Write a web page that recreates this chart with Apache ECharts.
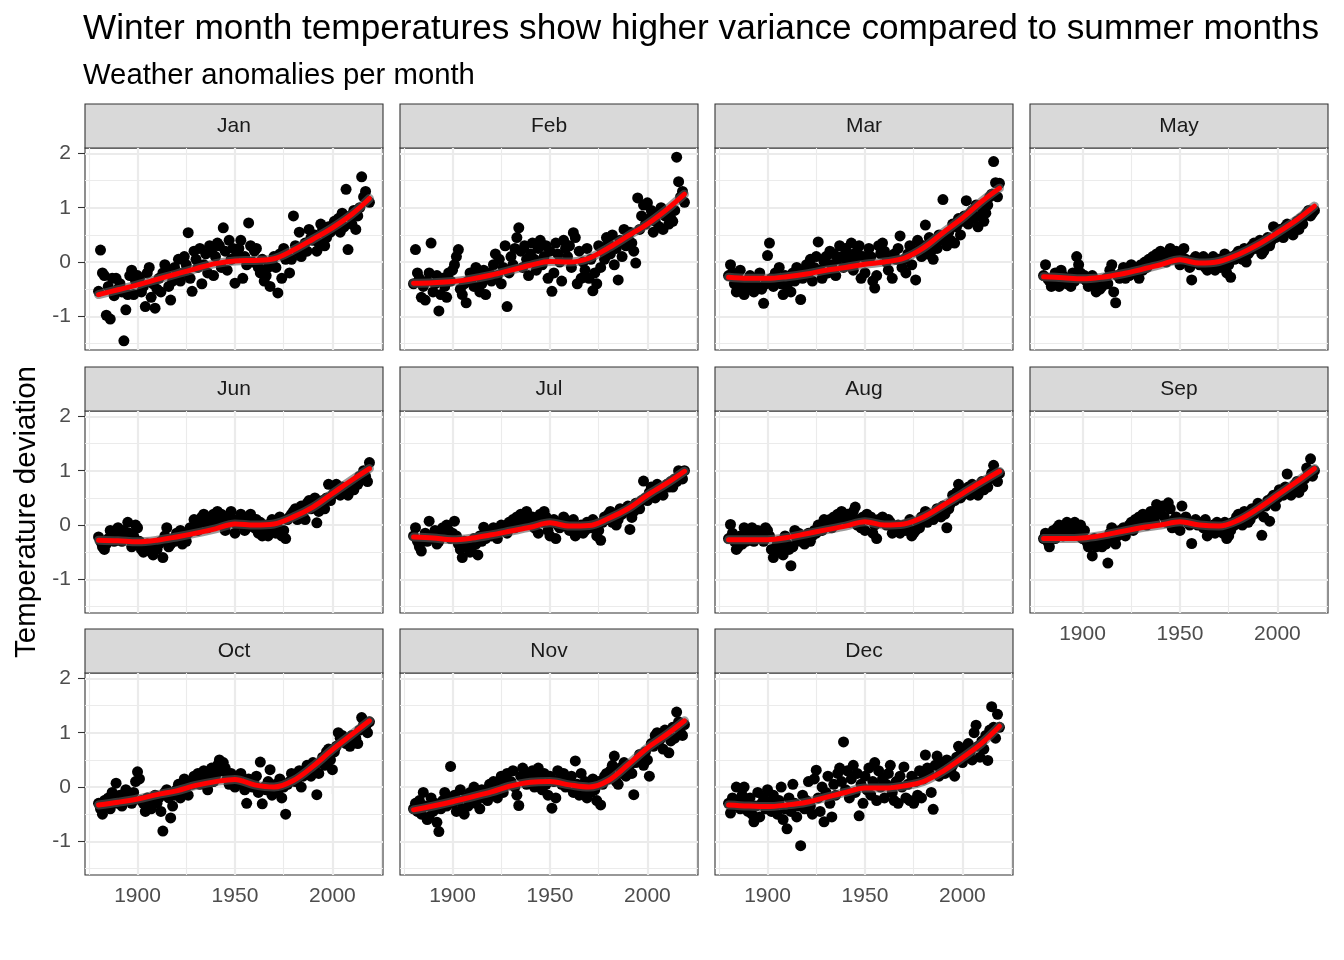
<!DOCTYPE html>
<html>
<head>
<meta charset="utf-8">
<script src="https://cdn.jsdelivr.net/npm/echarts@6/dist/echarts.min.js"></script>
<style>
html,body{margin:0;padding:0;background:#fff;}
#chart{width:1344px;height:960px;}
</style>
</head>
<body>
<div id="chart"></div>
<script>
// ---------------- DATA ----------------
const months = ['Jan','Feb','Mar','May','Jun','Jul','Aug','Sep','Oct','Nov','Dec'];
const firstYear = 1880;
const years = Array.from({length: 140}, (_, i) => firstYear + i);

const jan = [
 -0.54, 0.22, -0.20, -0.25, -0.98, -0.45, -1.05, -0.30, -0.62, -0.30,
 -0.50, -0.40, -0.55, -1.45, -0.88, -0.60, -0.25, -0.15, -0.60, -0.35,
 -0.25, -0.30, -0.55, -0.45, -0.82, -0.20, -0.10, -0.65, -0.40, -0.85,
 -0.50, -0.30, -0.55, -0.20, -0.05, -0.15, -0.45, -0.70, -0.35, -0.10,
 -0.25, 0.05, -0.35, -0.20, 0.10, -0.05, 0.54, -0.30, -0.54, 0.20,
 0.05, -0.10, 0.25, -0.40, -0.05, 0.15, -0.20, 0.30, 0.20, -0.25,
 0.10, 0.35, 0.30, -0.10, 0.63, 0.20, -0.15, 0.40, 0.05, 0.25,
 -0.39, 0.15, 0.25, 0.40, -0.30, 0.10, -0.05, 0.72, 0.30, 0.00,
 0.20, 0.25, -0.10, -0.20, 0.05, -0.35, -0.25, -0.10, -0.45, 0.00,
 0.10, -0.10, -0.57, 0.15, -0.30, 0.25, 0.05, 0.10, -0.20, 0.05,
 0.85, 0.30, 0.20, 0.55, 0.10, 0.25, 0.35, 0.20, 0.60, 0.45,
 0.40, 0.50, 0.20, 0.35, 0.70, 0.60, 0.30, 0.45, 0.65, 0.55,
 0.60, 0.75, 0.70, 0.80, 0.55, 0.90, 0.65, 1.34, 0.23, 0.85,
 0.70, 0.95, 0.60, 0.85, 1.00, 1.57, 1.20, 1.30, 1.12, 1.10
];
const feb = [
 -0.40, 0.23, -0.20, -0.30, -0.65, -0.45, -0.70, -0.35, -0.20, 0.35,
 -0.55, -0.40, -0.25, -0.90, -0.60, -0.30, -0.45, -0.65, -0.20, -0.35,
 -0.15, -0.05, 0.10, 0.23, -0.50, -0.60, -0.40, -0.75, -0.35, -0.20,
 -0.30, -0.45, -0.10, -0.25, -0.55, -0.40, -0.15, -0.60, -0.30, -0.20,
 -0.35, -0.05, 0.15, -0.25, 0.05, -0.40, -0.10, 0.30, -0.82, -0.20,
 0.10, -0.05, 0.25, 0.45, 0.63, 0.20, -0.10, 0.30, 0.05, -0.25,
 0.15, 0.35, 0.05, -0.15, 0.25, 0.40, -0.05, 0.10, 0.30, -0.30,
 0.20, -0.54, -0.20, 0.35, 0.15, 0.00, -0.35, 0.40, 0.25, 0.10,
 0.30, -0.10, 0.54, 0.45, -0.40, 0.20, -0.30, 0.00, -0.15, 0.25,
 -0.30, 0.05, -0.53, -0.20, -0.40, 0.30, -0.10, 0.20, 0.05, 0.45,
 0.35, 0.15, 0.50, -0.05, 0.25, -0.33, 0.40, 0.10, 0.60, 0.30,
 0.45, 0.55, 0.35, 0.20, -0.02, 1.18, 0.60, 0.85, 1.05, 0.70,
 1.09, 0.80, 0.95, 0.55, 0.75, 0.90, 0.65, 1.00, 0.60, 0.85,
 0.90, 0.70, 0.80, 0.75, 0.95, 1.93, 1.48, 1.20, 1.30, 1.10
];
const mar = [
 -0.25, -0.05, -0.20, -0.40, -0.55, -0.30, -0.15, -0.45, -0.60, -0.35,
 -0.50, -0.25, -0.40, -0.55, -0.30, -0.45, -0.20, -0.50, -0.76, -0.40,
 0.12, 0.35, -0.30, -0.45, -0.20, -0.35, -0.10, -0.40, -0.60, -0.25,
 -0.45, -0.30, -0.55, -0.20, -0.35, -0.10, -0.25, -0.69, -0.30, -0.15,
 -0.05, -0.20, 0.05, -0.35, -0.10, 0.10, 0.37, -0.15, -0.30, 0.00,
 0.10, -0.20, 0.20, -0.05, 0.15, -0.25, 0.05, 0.30, 0.10, -0.10,
 0.25, 0.00, 0.15, 0.35, -0.15, 0.05, 0.20, 0.30, -0.30, 0.10,
 -0.20, 0.05, 0.25, 0.10, -0.35, -0.48, -0.25, 0.30, 0.15, 0.35,
 0.20, 0.00, -0.15, 0.10, -0.30, 0.15, 0.05, 0.25, 0.48, -0.10,
 0.05, -0.20, 0.15, 0.30, -0.05, 0.20, -0.33, 0.40, 0.25, 0.10,
 0.30, 0.68, 0.15, 0.45, 0.20, 0.05, 0.35, 0.25, 0.50, 0.40,
 1.15, 0.45, 0.30, 0.55, 0.40, 0.70, 0.35, 0.65, 0.80, 0.50,
 0.75, 0.85, 1.13, 0.70, 0.90, 0.95, 0.80, 1.05, 0.65, 0.85,
 1.00, 0.75, 0.90, 1.05, 1.20, 1.25, 1.85, 1.46, 1.20, 1.45
];
const may = [
 -0.25, -0.05, -0.30, -0.35, -0.45, -0.40, -0.20, -0.30, -0.45, -0.15,
 -0.25, -0.35, -0.40, -0.30, -0.45, -0.20, -0.35, 0.10, -0.05, -0.20,
 -0.30, -0.25, -0.35, -0.45, -0.30, -0.25, -0.40, -0.55, -0.35, -0.50,
 -0.45, -0.35, -0.30, -0.40, -0.15, -0.05, -0.55, -0.75, -0.25, -0.30,
 -0.20, -0.10, -0.30, -0.15, -0.25, -0.05, -0.20, -0.10, -0.15, -0.30,
 -0.05, -0.15, 0.00, -0.10, 0.05, 0.00, 0.10, 0.05, 0.15, 0.10,
 0.20, 0.05, 0.15, 0.00, 0.10, 0.25, 0.05, 0.15, 0.20, 0.10,
 -0.05, 0.10, 0.25, 0.05, 0.00, -0.10, -0.33, 0.05, 0.10, 0.00,
 -0.05, 0.05, 0.10, -0.10, -0.15, 0.00, -0.05, 0.10, -0.15, 0.05,
 0.05, -0.10, 0.00, 0.15, -0.20, -0.05, -0.28, 0.10, 0.05, 0.15,
 0.20, 0.10, 0.05, 0.25, 0.00, 0.15, 0.20, 0.30, 0.35, 0.25,
 0.30, 0.40, 0.15, 0.20, 0.35, 0.45, 0.30, 0.40, 0.65, 0.45,
 0.50, 0.60, 0.55, 0.45, 0.65, 0.70, 0.60, 0.55, 0.50, 0.65,
 0.75, 0.60, 0.80, 0.70, 0.85, 0.90, 0.95, 0.85, 0.90, 0.95
];
const jun = [
 -0.22, -0.30, -0.40, -0.45, -0.35, -0.25, -0.10, -0.20, -0.30, -0.15,
 -0.05, -0.20, -0.30, -0.10, -0.25, 0.05, -0.15, -0.40, -0.20, 0.00,
 -0.05, -0.30, -0.45, -0.50, -0.40, -0.35, -0.45, -0.50, -0.55, -0.40,
 -0.45, -0.35, -0.30, -0.60, -0.20, -0.05, -0.40, -0.35, -0.25, -0.30,
 -0.15, -0.20, -0.10, -0.35, -0.25, -0.30, -0.15, -0.05, -0.10, 0.10,
 0.00, -0.10, 0.05, 0.15, 0.20, 0.10, -0.05, 0.15, 0.10, 0.20,
 0.05, 0.25, 0.10, 0.20, 0.00, -0.10, 0.15, 0.05, 0.25, 0.10,
 -0.15, 0.00, 0.10, 0.20, 0.05, -0.10, -0.05, 0.15, 0.20, 0.00,
 -0.05, 0.10, -0.15, 0.05, -0.20, -0.10, 0.00, -0.20, -0.05, 0.10,
 0.05, -0.15, -0.05, 0.15, -0.20, -0.10, -0.25, 0.10, 0.15, 0.20,
 0.25, 0.30, 0.10, 0.20, 0.35, 0.15, 0.10, 0.40, 0.45, 0.30,
 0.35, 0.50, 0.04, 0.25, 0.40, 0.45, 0.30, 0.50, 0.75, 0.45,
 0.55, 0.60, 0.75, 0.65, 0.55, 0.70, 0.65, 0.60, 0.55, 0.70,
 0.75, 0.65, 0.80, 0.75, 0.90, 0.85, 1.00, 0.90, 0.80, 1.15
];
const jul = [
 -0.20, -0.05, -0.30, -0.40, -0.48, -0.25, -0.15, -0.30, 0.07, -0.20,
 -0.25, -0.10, -0.35, -0.30, -0.15, -0.05, -0.20, 0.00, -0.10, -0.25,
 -0.15, 0.07, -0.20, -0.35, -0.45, -0.60, -0.30, -0.40, -0.35, -0.50,
 -0.40, -0.25, -0.35, -0.55, -0.20, -0.30, -0.04, -0.25, -0.20, -0.15,
 -0.20, -0.05, -0.15, -0.25, -0.10, 0.00, -0.10, -0.05, -0.15, 0.05,
 0.00, 0.10, -0.05, 0.15, 0.10, 0.20, 0.05, 0.10, 0.25, 0.15,
 0.05, 0.15, -0.05, 0.10, -0.15, 0.20, 0.05, 0.25, 0.15, -0.10,
 -0.20, 0.05, 0.10, -0.25, 0.00, -0.05, 0.05, 0.15, 0.10, 0.00,
 -0.10, 0.05, 0.10, -0.20, -0.15, -0.05, 0.00, -0.15, -0.10, 0.05,
 0.00, -0.05, 0.10, 0.05, -0.20, -0.10, -0.28, 0.05, 0.15, 0.10,
 0.20, 0.25, 0.05, 0.15, 0.00, 0.10, 0.30, 0.20, 0.25, 0.30,
 0.35, -0.08, 0.14, 0.25, 0.40, 0.35, 0.30, 0.45, 0.81, 0.50,
 0.45, 0.60, 0.70, 0.65, 0.50, 0.75, 0.60, 0.65, 0.55, 0.70,
 0.75, 0.70, 0.80, 0.70, 0.85, 0.80, 1.00, 0.90, 0.85, 1.00
];
const aug = [
 -0.25, 0.01, -0.15, -0.30, -0.45, -0.40, -0.20, -0.35, -0.05, -0.30,
 -0.25, -0.15, -0.05, -0.30, -0.20, -0.10, -0.25, -0.15, -0.30, -0.05,
 -0.10, -0.20, -0.45, -0.60, -0.50, -0.35, -0.30, -0.40, -0.55, -0.20,
 -0.35, -0.45, -0.75, -0.40, -0.10, -0.25, -0.15, -0.30, -0.20, -0.35,
 -0.25, -0.15, -0.30, -0.20, -0.10, -0.15, 0.00, -0.05, -0.10, 0.10,
 0.05, 0.00, 0.10, -0.05, 0.15, 0.05, 0.20, 0.10, 0.25, 0.15,
 0.10, 0.20, 0.05, 0.15, 0.25, 0.33, 0.00, 0.10, -0.05, 0.15,
 -0.10, 0.20, 0.10, 0.15, -0.15, 0.00, -0.25, 0.10, 0.05, 0.15,
 0.05, 0.00, 0.10, 0.05, -0.15, -0.10, -0.05, 0.00, -0.15, -0.05,
 0.00, -0.10, -0.05, 0.10, -0.20, -0.15, -0.10, 0.05, -0.05, 0.15,
 0.10, 0.25, 0.05, 0.20, 0.15, 0.10, 0.20, 0.30, 0.25, 0.15,
 0.35, 0.20, -0.05, 0.30, 0.40, 0.55, 0.45, 0.60, 0.75, 0.50,
 0.55, 0.65, 0.60, 0.70, 0.55, 0.75, 0.65, 0.60, 0.55, 0.70,
 0.80, 0.65, 0.75, 0.70, 0.85, 0.95, 1.10, 0.85, 0.80, 0.95
];
const sep = [
 -0.25, -0.15, -0.30, -0.40, -0.20, -0.10, -0.25, -0.05, 0.00, -0.15,
 -0.20, -0.05, 0.05, -0.10, 0.00, -0.15, 0.05, -0.05, -0.20, 0.00,
 -0.25, -0.10, -0.30, -0.40, -0.35, -0.57, -0.25, -0.40, -0.30, -0.35,
 -0.40, -0.25, -0.35, -0.70, -0.15, -0.05, -0.30, -0.35, -0.20, -0.10,
 -0.15, -0.05, -0.20, -0.10, 0.00, 0.05, -0.10, 0.10, 0.00, 0.15,
 0.05, 0.20, 0.10, 0.00, 0.15, 0.25, 0.10, 0.05, 0.38, 0.20,
 0.25, 0.35, 0.15, 0.05, 0.41, 0.30, -0.05, 0.10, 0.15, 0.00,
 -0.10, 0.35, 0.10, 0.15, 0.05, 0.00, -0.34, 0.05, 0.10, 0.00,
 0.05, 0.00, -0.05, 0.10, -0.20, -0.10, -0.05, 0.00, -0.15, 0.05,
 0.00, -0.10, -0.15, 0.05, -0.25, -0.20, -0.10, 0.05, 0.00, 0.15,
 0.20, 0.10, 0.00, 0.25, 0.15, 0.05, 0.10, 0.30, 0.20, 0.25,
 0.40, 0.30, -0.19, 0.15, 0.35, 0.45, 0.07, 0.50, 0.55, 0.35,
 0.50, 0.65, 0.60, 0.55, 0.70, 0.94, 0.65, 0.55, 0.60, 0.75,
 0.80, 0.60, 0.75, 0.70, 0.85, 1.05, 0.95, 1.22, 0.90, 1.00
];
const oct = [
 -0.30, -0.40, -0.50, -0.25, -0.35, -0.20, -0.40, -0.10, -0.25, 0.07,
 -0.30, -0.15, -0.35, -0.20, -0.05, -0.25, -0.15, -0.30, -0.10, 0.10,
 0.28, 0.15, -0.25, -0.30, -0.45, -0.20, -0.35, -0.40, -0.25, -0.15,
 -0.30, -0.20, -0.45, -0.81, -0.10, -0.05, -0.20, -0.57, -0.35, -0.15,
 -0.05, 0.05, -0.20, -0.10, 0.15, 0.00, -0.15, 0.10, 0.05, 0.20,
 0.10, 0.25, 0.05, 0.15, 0.30, 0.20, -0.05, 0.25, 0.35, 0.10,
 0.20, 0.40, 0.50, 0.30, 0.45, 0.35, 0.15, 0.05, 0.25, 0.10,
 0.00, 0.20, 0.10, 0.25, 0.05, -0.05, -0.30, 0.15, 0.10, 0.00,
 0.05, 0.20, -0.10, 0.46, -0.31, 0.00, -0.05, 0.10, 0.32, -0.15,
 -0.05, 0.05, -0.10, 0.15, -0.20, 0.00, -0.50, 0.05, 0.10, 0.25,
 0.20, 0.10, 0.15, 0.30, 0.00, 0.20, 0.25, 0.40, 0.35, 0.20,
 0.45, 0.30, -0.14, 0.25, 0.45, 0.55, 0.40, 0.65, 0.70, 0.50,
 0.32, 0.65, 0.75, 1.00, 0.90, 0.95, 0.85, 0.80, 0.90, 0.75,
 0.95, 0.85, 0.90, 0.80, 1.05, 1.28, 1.15, 1.10, 1.00, 1.20
];
const nov = [
 -0.40, -0.30, -0.45, -0.25, -0.50, -0.10, -0.35, -0.60, -0.55, -0.20,
 -0.45, -0.30, -0.65, -0.82, -0.40, -0.25, -0.10, -0.35, -0.20, 0.38,
 -0.30, -0.15, -0.45, -0.25, -0.05, -0.40, -0.50, -0.20, -0.35, -0.10,
 -0.25, 0.00, -0.30, -0.15, -0.40, -0.05, -0.20, -0.10, -0.25, 0.05,
 -0.15, 0.10, -0.05, -0.20, 0.05, 0.20, -0.10, 0.15, 0.25, 0.05,
 0.10, 0.30, 0.00, -0.15, -0.34, 0.20, 0.35, 0.10, 0.05, 0.25,
 0.15, 0.30, 0.00, 0.20, 0.35, 0.10, -0.05, 0.25, 0.05, -0.15,
 0.20, -0.39, 0.10, -0.20, 0.30, 0.15, 0.05, 0.25, 0.00, 0.10,
 0.15, 0.20, -0.10, 0.48, 0.05, -0.15, 0.25, -0.05, 0.10, -0.20,
 0.00, -0.10, 0.15, -0.05, -0.25, 0.10, -0.33, 0.05, 0.20, 0.25,
 0.15, 0.30, 0.40, 0.57, 0.10, 0.05, 0.35, 0.25, 0.45, 0.20,
 0.35, 0.40, 0.25, -0.14, 0.45, 0.50, 0.60, 0.55, 0.40, 0.65,
 0.50, 0.20, 0.80, 0.75, 0.95, 1.00, 0.85, 0.90, 0.70, 1.05,
 0.95, 0.63, 0.85, 1.10, 0.90, 1.38, 1.20, 1.00, 0.95, 1.15
];
const dec = [
 -0.30, -0.48, -0.20, -0.35, 0.00, -0.25, -0.40, -0.15, 0.00, -0.30,
 -0.45, -0.20, -0.50, -0.64, -0.35, -0.10, -0.55, -0.30, -0.20, -0.40,
 -0.05, -0.30, -0.45, -0.15, -0.35, -0.50, -0.25, 0.00, -0.60, -0.40,
 -0.77, -0.20, -0.45, 0.05, -0.30, -0.55, -0.35, -1.08, -0.15, -0.40,
 -0.25, 0.10, -0.35, -0.50, 0.15, 0.31, -0.20, -0.45, 0.00, -0.64,
 -0.10, 0.20, -0.30, -0.55, 0.05, -0.15, 0.25, 0.35, 0.10, 0.83,
 -0.05, 0.30, -0.20, 0.15, 0.40, -0.10, 0.25, -0.53, 0.05, -0.30,
 0.20, -0.05, 0.35, -0.15, 0.10, 0.45, -0.25, 0.30, 0.00, 0.15,
 -0.20, 0.05, 0.25, 0.40, -0.10, -0.25, 0.10, -0.30, 0.20, 0.00,
 0.37, -0.20, 0.05, -0.25, 0.20, -0.30, 0.10, -0.15, 0.30, -0.20,
 0.15, 0.59, 0.35, 0.25, -0.10, -0.41, 0.40, 0.57, 0.20, 0.30,
 0.45, 0.25, 0.50, 0.35, 0.30, 0.40, 0.20, 0.55, 0.75, 0.60,
 0.45, 0.70, 0.55, 0.80, 0.65, 0.50, 1.00, 1.14, 0.75, 0.55,
 0.85, 0.70, 0.95, 0.49, 1.05, 1.48, 1.10, 0.90, 1.34, 1.10
];

// smoothed trend
const fitYears = [1880, 1890, 1900, 1910, 1920, 1930, 1940, 1950, 1960, 1970, 1980, 1990, 2000, 2010, 2019];
const janFit = [-0.60,-0.51,-0.42,-0.32,-0.22,-0.12,-0.03,0.02,0.03,0.06,0.22,0.42,0.63,0.88,1.17];
const febFit = [-0.39,-0.38,-0.36,-0.31,-0.24,-0.15,-0.06,0.01,0.00,0.07,0.26,0.48,0.70,0.97,1.25];
const marFit = [-0.28,-0.30,-0.30,-0.27,-0.22,-0.15,-0.10,-0.04,0.00,0.07,0.26,0.54,0.81,1.12,1.36];
const mayFit = [-0.27,-0.29,-0.31,-0.28,-0.22,-0.14,-0.05,0.04,-0.02,0.01,0.14,0.32,0.54,0.78,1.03];
const junFit = [-0.28,-0.29,-0.31,-0.28,-0.22,-0.15,-0.07,0.02,0.00,0.02,0.15,0.33,0.58,0.83,1.04];
const julFit = [-0.22,-0.24,-0.27,-0.24,-0.18,-0.11,-0.04,0.04,-0.02,-0.01,0.12,0.30,0.55,0.77,0.99];
const augFit = [-0.27,-0.27,-0.27,-0.23,-0.16,-0.09,-0.02,0.06,0.00,0.02,0.15,0.36,0.58,0.80,0.99];
const sepFit = [-0.25,-0.25,-0.24,-0.19,-0.12,-0.05,0.00,0.06,0.00,-0.02,0.09,0.30,0.55,0.80,1.04];
const octFit = [-0.33,-0.28,-0.22,-0.14,-0.07,0.03,0.10,0.14,0.04,0.00,0.12,0.38,0.69,0.97,1.22];
const novFit = [-0.42,-0.35,-0.27,-0.18,-0.09,0.02,0.09,0.10,0.04,0.00,0.12,0.41,0.72,0.97,1.22];
const decFit = [-0.33,-0.35,-0.36,-0.33,-0.28,-0.19,-0.10,-0.02,-0.02,0.02,0.10,0.29,0.54,0.81,1.12];

const monthValues = [jan, feb, mar, may, jun, jul, aug, sep, oct, nov, dec];
const monthFits = [janFit, febFit, marFit, mayFit, junFit, julFit, augFit, sepFit, octFit, novFit, decFit];

// tick labels / grid breaks
const xTicks = [1900, 1950, 2000];
const xMinor = [1875, 1925, 1975, 2025];
const yTicks = [-1, 0, 1, 2];
const yMinor = [-1.5, -0.5, 0.5, 1.5];
const xRange = [1873.05, 2025.95];
const yRange = [-1.62, 2.10];

const titleText = 'Winter month temperatures show higher variance compared to summer months';
const subtitleText = 'Weather anomalies per month';
const yTitle = 'Temperature deviation';

// ---------------- LAYOUT ----------------
const FONT = "'Liberation Sans', Arial, Helvetica, sans-serif";
const colLeft = [85, 400, 715, 1030];
const rowTop = [148, 411, 673];
const PW = 298, PH = 202, STRIP = 44;
const nCols = 4;

const grid = [], xAxis = [], yAxis = [], series = [], graphic = [];

graphic.push({type:'text', left:83, top:12, silent:true,
  style:{text:titleText, font:`35.2px ${FONT}`, fill:'#000'}});
graphic.push({type:'text', left:83, top:61, silent:true,
  style:{text:subtitleText, font:`29.3px ${FONT}`, fill:'#000'}});
graphic.push({type:'text', x:27, y:512, rotation:Math.PI/2, silent:true,
  style:{text:yTitle, font:`29.5px ${FONT}`, fill:'#000', align:'center', verticalAlign:'middle'}});

const plainNum = v => String(v);

months.forEach((m, i) => {
  const col = i % nCols, row = Math.floor(i / nCols);
  const left = colLeft[col], top = rowTop[row];
  const showX = (i + nCols) >= months.length;
  const showY = col === 0;

  grid.push({left:left, top:top, width:PW, height:PH, show:true,
    backgroundColor:'#fff', borderColor:'#333333', borderWidth:1.1});

  xAxis.push({type:'value', gridIndex:i, min:xRange[0], max:xRange[1],
    splitLine:{show:false}, axisLine:{show:false},
    axisTick:{show:showX, length:7, lineStyle:{color:'#333333', width:1.1}, customValues:xTicks},
    axisLabel:{show:showX, customValues:xTicks, formatter:plainNum, color:'#4D4D4D', fontSize:21, fontFamily:FONT, margin:11}
  });
  yAxis.push({type:'value', gridIndex:i, min:yRange[0], max:yRange[1],
    splitLine:{show:false}, axisLine:{show:false},
    axisTick:{show:showY, length:7, lineStyle:{color:'#333333', width:1.1}, customValues:yTicks},
    axisLabel:{show:showY, customValues:yTicks, formatter:plainNum, color:'#4D4D4D', fontSize:21, fontFamily:FONT, margin:14}
  });

  const major = {color:'#EBEBEB', width:2.2, type:'solid'};
  const minor = {color:'#EBEBEB', width:1.1, type:'solid'};
  const gl = [];
  xMinor.forEach(v => gl.push({xAxis:v, lineStyle:minor}));
  yMinor.forEach(v => gl.push({yAxis:v, lineStyle:minor}));
  xTicks.forEach(v => gl.push({xAxis:v, lineStyle:major}));
  yTicks.forEach(v => gl.push({yAxis:v, lineStyle:major}));

  series.push({type:'line', xAxisIndex:i, yAxisIndex:i, data:[], silent:true, z:1,
    markLine:{silent:true, z:1, zlevel:0, symbol:['none','none'], label:{show:false}, animation:false, data:gl}});

  series.push({type:'scatter', xAxisIndex:i, yAxisIndex:i, z:3, silent:true,
    symbolSize:11, itemStyle:{color:'#000', opacity:1},
    data: years.map((y, k) => [y, monthValues[i][k]])});

  const fitData = fitYears.map((y, k) => [y, monthFits[i][k]]);
  series.push({type:'line', xAxisIndex:i, yAxisIndex:i, z:4, silent:true, smooth:0.35,
    showSymbol:false, symbol:'none', data:fitData,
    lineStyle:{color:'rgba(90,90,90,0.6)', width:9, cap:'round'}});
  series.push({type:'line', xAxisIndex:i, yAxisIndex:i, z:5, silent:true, smooth:0.35,
    showSymbol:false, symbol:'none', data:fitData,
    lineStyle:{color:'#FF0000', width:5, cap:'round'}});

  graphic.push({type:'rect', silent:true, shape:{x:left, y:top - STRIP, width:PW, height:STRIP},
    style:{fill:'#D9D9D9', stroke:'#333333', lineWidth:1.1}});
  graphic.push({type:'text', silent:true, x:left + PW/2, y:top - STRIP/2,
    style:{text:m, font:`21px ${FONT}`, fill:'#1A1A1A', align:'center', verticalAlign:'middle'}});
});

const chart = echarts.init(document.getElementById('chart'), null, {renderer:'canvas'});
chart.setOption({
  animation:false,
  backgroundColor:'#fff',
  grid, xAxis, yAxis, series, graphic
});
</script>
</body>
</html>
